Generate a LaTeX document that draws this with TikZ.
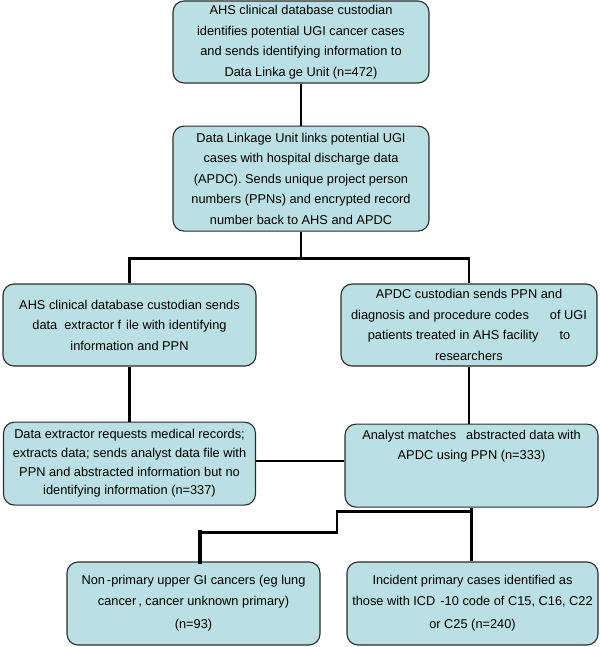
\documentclass[tikz,border=0pt]{standalone}
\usepackage{fontspec}
\setmainfont{Liberation Sans}
\usepackage{tikz}
\usetikzlibrary{positioning}
\usepackage{xcolor}
\definecolor{boxteal}{HTML}{BBE0E3}
\definecolor{boxedge}{HTML}{2B2B2B}

\begin{document}
\begin{tikzpicture}[
    x=1pt, y=1pt,
    stage/.style={draw=boxedge, line width=1.1pt, rounded corners=11pt,
                  fill=boxteal, minimum width=#1, minimum height=82pt,
                  inner sep=2pt, align=center,
                  font=\fontsize{12.8}{20.5}\selectfont},
    stage/.default=256pt,
    link/.style={line width=2.6pt, black},
    node distance=42pt
  ]
    \useasboundingbox (0,0) rectangle (600,-647);

    % Linkage
    \node[stage] (ahs) at (301,-42)
      {AHS clinical database custodian\\identifies potential UGI cancer cases\\
       and sends identifying information to\\Data Linka\hspace{3pt}ge Unit (n=472)};
    \node[stage, minimum height=105pt, below=of ahs] (dlu)
      {Data Linkage Unit links potential UGI\\cases with hospital discharge data\\
       (APDC). Sends unique project person\\numbers (PPNs) and encrypted record\\
       number back to AHS and APDC};

    % Custodians
    \node[stage=253pt] (extfile) at (129.5,-325)
      {AHS clinical database custodian sends\\
       data\hspace{7pt}extractor f\hspace{5pt}ile with identifying\\information and PPN};
    \node[stage] (apdc) at (469,-325)
      {APDC custodian sends PPN and\\diagnosis and procedure codes\hspace{21pt}of UGI\\
       patients treated in AHS facility\hspace{21pt}to\\researchers};

    % Abstraction
    \node[stage=252pt, minimum height=83pt, below=55pt of extfile,
          font=\fontsize{12.8}{18.7}\selectfont] (extract)
      {Data extractor requests medical records;\\extracts data; sends analyst data file with\\
       PPN and abstracted information but no\\identifying information (n=337)};
    \node[stage=253pt, minimum height=83pt, below=57pt of apdc, xshift=2.5pt] (match)
      {Analyst matches\hspace{10pt}abstracted data with\\APDC using PPN (n=333)\\
       \mbox{}\\\mbox{}};

    % Outcome
    \node[stage=253pt, minimum height=83pt] (nonprim) at (193.5,-603.5)
      {Non\hspace{2pt}-primary upper GI cancers (eg lung\\
       cancer\hspace{2pt}, cancer unknown primary)\\[3pt](n=93)};
    \node[stage=251pt, minimum height=83pt] (incid) at (472.5,-603.5)
      {Incident primary cases identified as\\
       those with ICD\hspace{5pt}-10 code of C15, C16, C22\\[3pt]or C25 (n=240)};

    % Connectors
    \draw[link] (ahs) -- (dlu);
    \coordinate[below=27pt of dlu] (fork);
    \draw[link] (dlu) -- (fork);
    \draw[link] (fork) -| (extfile);
    \draw[link] (fork) -| (apdc);
    \draw[link] (extfile.south) -- (extfile.south |- extract.north);
    \draw[link] (apdc.south) -- (apdc.south |- match.north);
    \draw[link] ([yshift=2.5pt]extract.east) -- ([yshift=2.5pt]extract.east -| match.west);

    \coordinate[below=4pt of match] (split);
    \draw[link] (match.south) -- (match.south |- incid.north);
    \draw[link] (split) -- ++(-134.5,0) |- ++(-137,-21) coordinate (drop);
    \draw[link, line width=4.5pt, line cap=rect] (drop) -- (drop |- nonprim.north);
  \end{tikzpicture}
\end{document}
